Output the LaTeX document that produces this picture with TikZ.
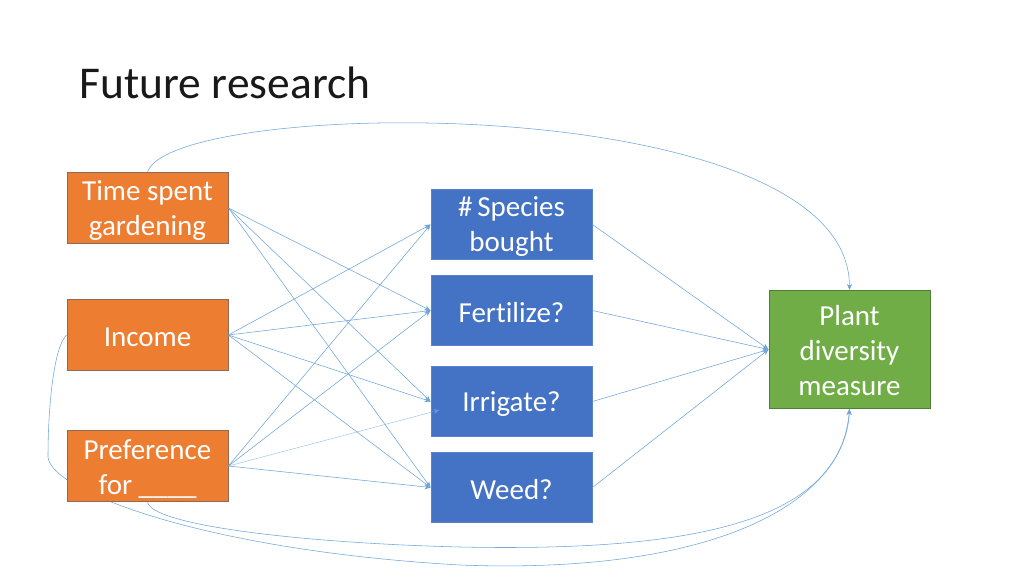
\documentclass[tikz,border=0pt]{standalone}
\usepackage{fontspec}
\setmainfont[Ligatures=CommonOff]{Carlito}
\usetikzlibrary{arrows.meta,calc,backgrounds}
\definecolor{orangebox}{HTML}{ED7D31}
\definecolor{orangeedge}{HTML}{8C6A55}
\definecolor{bluebox}{HTML}{4472C4}
\definecolor{blueedge}{HTML}{5A82CC}
\definecolor{greenbox}{HTML}{70AD47}
\definecolor{greenedge}{HTML}{507E32}
\definecolor{linkcol}{HTML}{6FA6DB}
\tikzset{
  box/.style={minimum width=161pt, minimum height=70.5pt, inner sep=0pt, line width=0.9pt},
  boxtext/.style={text=white, align=center, font=\fontsize{29}{35}\selectfont, inner sep=0pt, yshift=-2.5pt},
  srcbox/.style={box, fill=orangebox, draw=orangeedge},
  midbox/.style={box, fill=bluebox, draw=blueedge},
  outbox/.style={box, fill=greenbox, draw=greenedge, minimum height=118pt},
  link/.style={draw=linkcol, line width=0.55pt, -{Stealth[length=6pt,width=5pt]}},
  titletext/.style={anchor=base west, inner sep=0pt, font=\fontsize{45.5}{50}\selectfont, text=black!90}
}
\begin{document}
\begin{tikzpicture}[x=1pt,y=-1pt]
\useasboundingbox (0,0) rectangle (1024,576);
\node[titletext] (title) at (79.5,98) {Future research};

\node[srcbox, label={[boxtext]center:Time spent\\gardening}] (ts) at (147.5,208) {};
\node[srcbox, label={[boxtext]center:Income}] (inc) at (147.5,335) {};
\node[srcbox, label={[boxtext]center:Preference\\for \_\_\_\_}] (pref) at (147.5,466) {};

\node[midbox, label={[boxtext]center:\#\,Species\\bought}] (sp) at (511.5,224.5) {};
\node[midbox, label={[boxtext]center:Fertilize?}] (fe) at (511.5,310.5) {};
\node[midbox, label={[boxtext]center:Irrigate?}] (ir) at (511.5,401.5) {};
\node[midbox, label={[boxtext]center:Weed?}] (we) at (511.5,487.5) {};

\node[outbox, label={[boxtext, yshift=1pt]center:Plant\\diversity\\measure}] (pl) at (849.5,349.5) {};

\begin{scope}[on background layer]
\fill[white] (0,0) rectangle (1024,576);
\draw[link] (ts.north) .. controls (170,97) and (849,88) .. (pl.north);
\draw[link] (pref.south) .. controls (150,525) and (300,543) .. (460,547)
   .. controls (700,552) and (840,520) .. (pl.south);
\draw[link] (inc.west) .. controls (55,345) and (48,400) .. (48,457)
   .. controls (50,490) and (200,550) .. (460,565)
   .. controls (720,575) and (845,500) .. (pl.south);
\end{scope}

\draw[link] (ts.east) -- (fe.west);
\draw[link] (ts.east) -- (ir.west);
\draw[link] (ts.east) -- (we.west);
\draw[link] (inc.east) -- (sp.west);
\draw[link] (inc.east) -- (fe.west);
\draw[link] (inc.east) -- (ir.west);
\draw[link] (inc.east) -- (we.west);
\draw[link] (pref.east) -- (sp.west);
\draw[link] (pref.east) -- (fe.west);
\draw[link, draw opacity=0.6, fill opacity=0.6] (pref.east) -- ($(ir.west)+(9,8.5)$);
\draw[link] (pref.east) -- (we.west);

\draw[link] (sp.east) -- (pl.west);
\draw[link] (fe.east) -- (pl.west);
\draw[link] (ir.east) -- (pl.west);
\draw[link] (we.east) -- (pl.west);
\end{tikzpicture}
\end{document}
